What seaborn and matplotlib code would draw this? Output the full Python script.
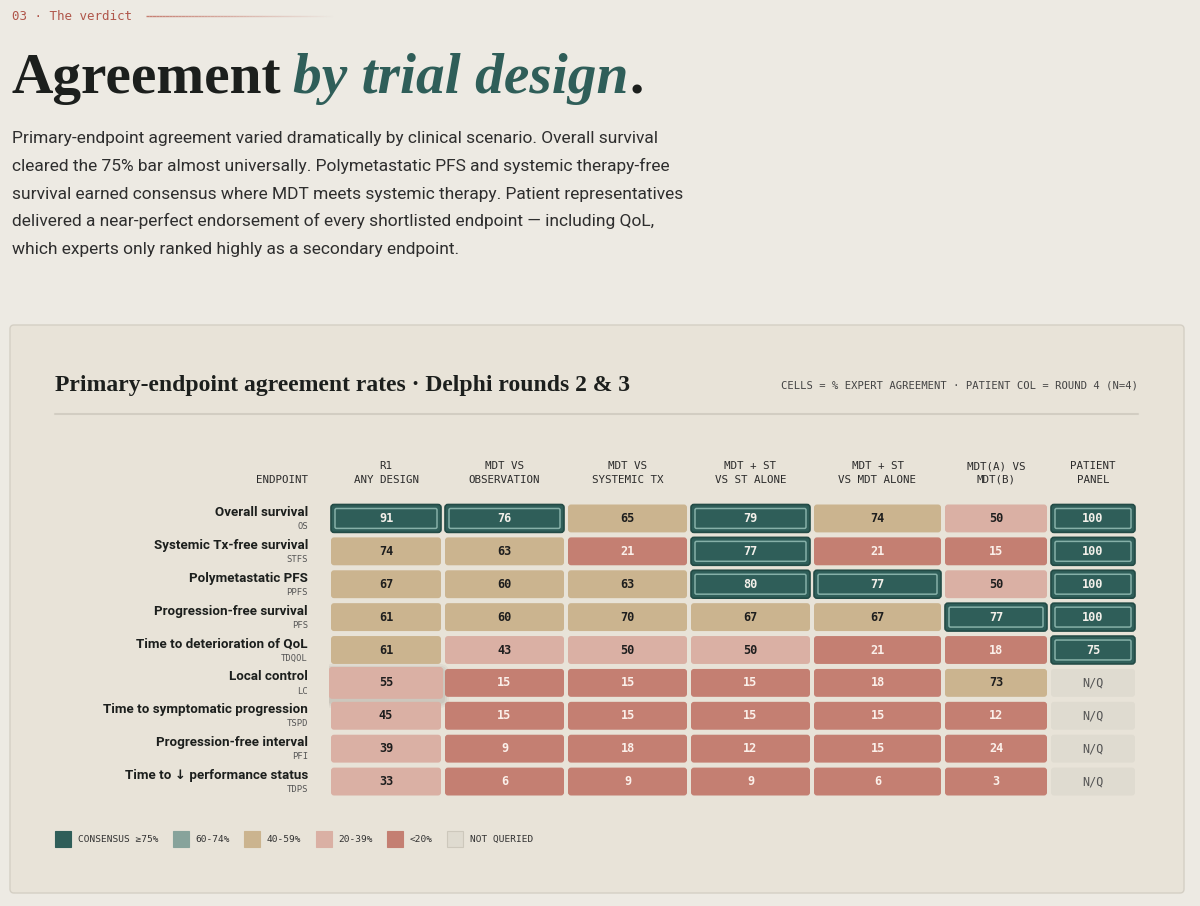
import numpy as np
import pandas as pd
import matplotlib
matplotlib.use("Agg")
import matplotlib.pyplot as plt
import seaborn as sns
from matplotlib.patches import FancyBboxPatch, Rectangle
from matplotlib.collections import LineCollection

# ---------------------------------------------------------------------------
# Data
# ---------------------------------------------------------------------------
endpoints = ["Overall survival", "Systemic Tx-free survival", "Polymetastatic PFS",
             "Progression-free survival", "Time to deterioration of QoL", "Local control",
             "Time to symptomatic progression", "Progression-free interval",
             "Time to \u2193 performance status"]
abbrevs = ["OS", "STFS", "PPFS", "PFS", "TDQOL", "LC", "TSPD", "PFI", "TDPS"]
designs = ["R1\nANY DESIGN", "MDT VS\nOBSERVATION", "MDT VS\nSYSTEMIC TX", "MDT + ST\nVS ST ALONE",
           "MDT + ST\nVS MDT ALONE", "MDT(A) VS\nMDT(B)", "PATIENT\nPANEL"]

r1_any_design = [91, 74, 67, 61, 61, 55, 45, 39, 33]
mdt_vs_observation = [76, 63, 60, 60, 43, 15, 15, 9, 6]
mdt_vs_systemic = [65, 21, 63, 70, 50, 15, 15, 18, 9]
mdt_st_vs_st = [79, 77, 80, 67, 50, 15, 15, 12, 9]
mdt_st_vs_mdt = [74, 21, 77, 67, 21, 18, 15, 15, 6]
mdt_a_vs_b = [50, 15, 50, 77, 18, 73, 12, 24, 3]
patient_panel = [100, 100, 100, 100, 75, np.nan, np.nan, np.nan, np.nan]

legend_labels = ["CONSENSUS \u226575%", "60-74%", "40-59%", "20-39%", "<20%", "NOT QUERIED"]

df = pd.DataFrame(dict(zip(designs, [r1_any_design, mdt_vs_observation, mdt_vs_systemic,
                                     mdt_st_vs_st, mdt_st_vs_mdt, mdt_a_vs_b, patient_panel])),
                  index=abbrevs)

# ---------------------------------------------------------------------------
# Style
# ---------------------------------------------------------------------------
BG = "#edeae3"
PANEL = "#e8e3d8"
INK = "#1c1f1d"
TEAL = "#2f5e59"
SAGE = "#87a39b"
TAN = "#cbb48f"
PINK = "#dab0a4"
RED = "#c47f72"
NQ = "#dfdbd0"
legend_colors = [TEAL, SAGE, TAN, PINK, RED, NQ]

MONO = "DejaVu Sans Mono"
SERIF = "Liberation Serif"
SANS = ["Roboto", "DejaVu Sans"]

sns.set_theme(style="white")
plt.rcParams["font.family"] = SANS


def cell_style(v):
    if np.isnan(v):
        return NQ, "#555555", "N/Q", "normal"
    if v >= 75:
        return TEAL, "#f3f0ea", f"{v:.0f}", "bold"
    if v >= 60:
        return TAN, "#1e1e1e", f"{v:.0f}", "bold"
    if v >= 30:
        return PINK, "#1e1e1e", f"{v:.0f}", "bold"
    return RED, "#fbf0ea", f"{v:.0f}", "bold"


fig = plt.figure(figsize=(12, 9.06), dpi=100, facecolor=BG)
renderer = fig.canvas.get_renderer()

# background axes in pixel units for page furniture
bg = fig.add_axes([0, 0, 1, 1])
bg.set_xlim(0, 1200)
bg.set_ylim(906, 0)
bg.axis("off")


def width_of(t):
    return t.get_window_extent(renderer).width


def fit(t, target):
    t.set_fontsize(t.get_fontsize() * target / width_of(t))


# kicker
k = bg.text(12, 16, "03 \u00b7 The verdict", family=MONO, fontsize=9, color="#b0564a", va="center")
kx = 12 + width_of(k) + 14
xs = np.linspace(kx, kx + 190, 60)
segs = [[(xs[i], 16), (xs[i + 1], 16)] for i in range(len(xs) - 1)]
alphas = np.linspace(0.9, 0.0, len(segs))
bg.add_collection(LineCollection(segs, colors=[(0.76, 0.45, 0.40, a) for a in alphas], linewidths=1))

# big title
t1 = bg.text(12, 93, "Agreement", family=SERIF, weight="bold", fontsize=44, color=INK, va="baseline")
fit(t1, 270)
size = t1.get_fontsize()
x = 12 + width_of(t1) + 11
t2 = bg.text(x, 93, "by trial design", family=SERIF, weight="bold", style="italic",
             fontsize=size, color=TEAL, va="baseline")
x += width_of(t2) + 2
bg.text(x, 93, ".", family=SERIF, weight="bold", fontsize=size, color=INK, va="baseline")

# paragraph
para_lines = [
    "Primary-endpoint agreement varied dramatically by clinical scenario. Overall survival",
    "cleared the 75% bar almost universally. Polymetastatic PFS and systemic therapy-free",
    "survival earned consensus where MDT meets systemic therapy. Patient representatives",
    "delivered a near-perfect endorsement of every shortlisted endpoint \u2014 including QoL,",
    "which experts only ranked highly as a secondary endpoint.",
]
probe = bg.text(0, -50, para_lines[2], fontsize=12.5)
fit(probe, 673)
psize = probe.get_fontsize()
probe.remove()
for i, line in enumerate(para_lines):
    bg.text(12, 143 + 27.8 * i, line, fontsize=psize, color="#2e2e2e", va="baseline")

# panel
bg.add_patch(FancyBboxPatch((10, 325), 1174, 568, boxstyle="round,pad=0,rounding_size=4",
                            facecolor=PANEL, edgecolor="#d4cfc4", linewidth=1))
pt = bg.text(55, 391, "Primary-endpoint agreement rates \u00b7 Delphi rounds 2 & 3", family=SERIF,
             weight="bold", fontsize=18, color=INK, va="baseline")
fit(pt, 572)
bg.text(1138, 386, "CELLS = % EXPERT AGREEMENT \u00b7 PATIENT COL = ROUND 4 (N=4)", family=MONO,
        fontsize=7.6, color="#444444", ha="right", va="center")
bg.plot([55, 1138], [414, 414], color="#d2cdc2", linewidth=1.5)

# ---------------------------------------------------------------------------
# Table
# ---------------------------------------------------------------------------
col_w = [114, 123, 123, 123, 131, 106, 88]
edges = np.concatenate([[0], np.cumsum(col_w)])
row_px = 296 / len(abbrevs)
asp = 1 / row_px
highlight = ("LC", 0)

tab = fig.add_axes([329 / 1200, 1 - 798 / 906, edges[-1] / 1200, 296 / 906])
tab.set_xlim(0, edges[-1])
tab.set_ylim(len(abbrevs), 0)
tab.axis("off")

for j, col in enumerate(df.columns):
    cx = (edges[j] + edges[j + 1]) / 2
    top, bottom = col.split("\n")
    tab.text(cx, -1.09, top, family=MONO, fontsize=7.8, color="#2b2b2b", ha="center", va="center")
    tab.text(cx, -0.67, bottom, family=MONO, fontsize=7.8, color="#2b2b2b", ha="center", va="center")
tab.text(-21, -0.67, "ENDPOINT", family=MONO, fontsize=7.8, color="#2b2b2b", ha="right", va="center")

for i, (name, ab) in enumerate(zip(endpoints, abbrevs)):
    tab.text(-21, i + 0.32, name, family=SANS, weight="bold", fontsize=9.6, color=INK,
             ha="right", va="center")
    tab.text(-21, i + 0.75, ab, family=MONO, fontsize=6.4, color="#555555", ha="right", va="center")
    for j, col in enumerate(df.columns):
        v = df.loc[ab, col]
        face, tc, label, wt = cell_style(v)
        x0, w = edges[j] + 2, col_w[j] - 4
        y0, h = i + 2.5 * asp, 1 - 5 * asp
        if (ab, j) == highlight:
            x0, w, y0, h = x0 - 2, w + 4, y0 - 2 * asp, h + 4 * asp
            for s, a in [(6, 0.03), (4, 0.04), (2, 0.05)]:
                tab.add_patch(FancyBboxPatch((x0 - s, y0 - s * asp + 3 * asp), w + 2 * s, h + 2 * s * asp,
                                             boxstyle=f"round,pad=0,rounding_size={3 + s}",
                                             mutation_aspect=asp, facecolor="black", alpha=a,
                                             edgecolor="none", zorder=1))
        tab.add_patch(FancyBboxPatch((x0, y0), w, h, boxstyle="round,pad=0,rounding_size=3",
                                     mutation_aspect=asp, facecolor=face,
                                     edgecolor="#234b46" if face == TEAL else "none",
                                     linewidth=1.2, zorder=2))
        if face == TEAL:
            tab.add_patch(FancyBboxPatch((x0 + 4, y0 + 4 * asp), w - 8, h - 8 * asp,
                                         boxstyle="round,pad=0,rounding_size=1.5",
                                         mutation_aspect=asp, facecolor="none",
                                         edgecolor="#86b0a8", linewidth=1.1, zorder=3))
        tab.text((edges[j] + edges[j + 1]) / 2, i + 0.5, label, family=MONO, weight=wt,
                 fontsize=8.6, color=tc, ha="center", va="center", zorder=4)

# legend
lx = 55
for lab, colr in zip(legend_labels, legend_colors):
    bg.add_patch(Rectangle((lx, 831), 16, 16, facecolor=colr,
                           edgecolor="#cdc8bc" if colr == NQ else colr, linewidth=0.8))
    lt = bg.text(lx + 23, 839, lab, family=MONO, fontsize=6.8, color="#333333", va="center")
    lx += 23 + width_of(lt) + 14

fig.savefig("out.png", dpi=100, facecolor=BG)
